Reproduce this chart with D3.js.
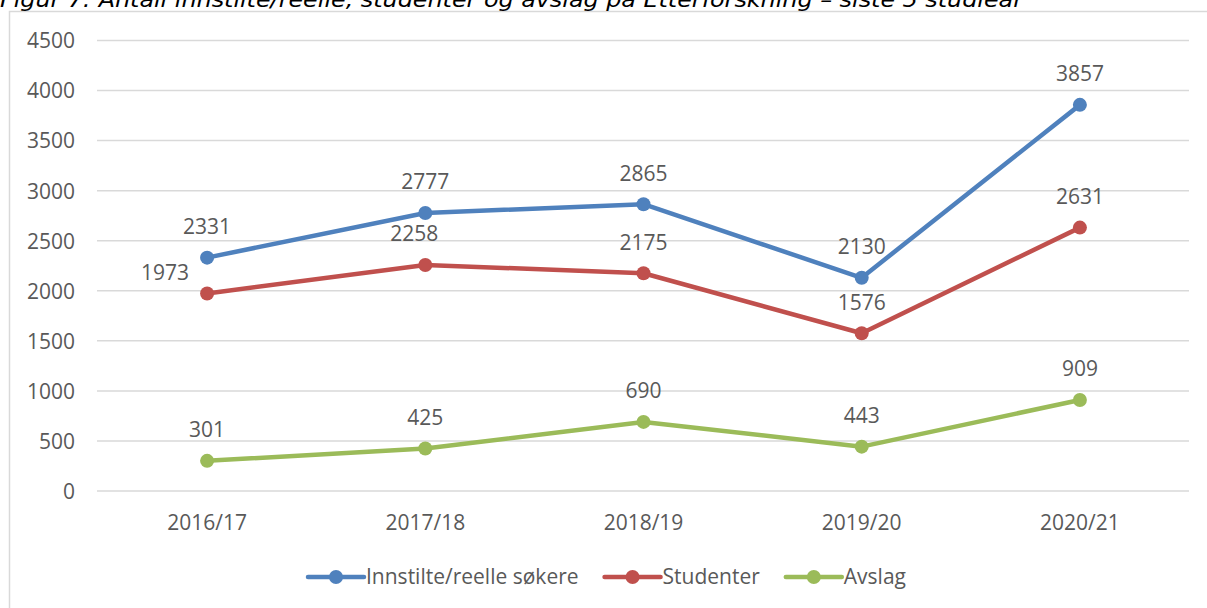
<!DOCTYPE html>
<html>
<head>
<meta charset="utf-8">
<script src="https://cdn.jsdelivr.net/npm/d3@7"></script>
<style>
  html, body { margin: 0; padding: 0; background: #fff; }
  svg { display: block; }
</style>
</head>
<body>
<svg id="chart" width="1207" height="608"></svg>
<script>
// ---- data ----
const categories = ["2016/17", "2017/18", "2018/19", "2019/20", "2020/21"];
const seriesNames = ["Innstilte/reelle søkere", "Studenter", "Avslag"];
const innstilte = [2331, 2777, 2865, 2130, 3857];
const studenter = [1973, 2258, 2175, 1576, 2631];
const avslag = [301, 425, 690, 443, 909];
const yTicks = [0, 500, 1000, 1500, 2000, 2500, 3000, 3500, 4000, 4500];
const titleText = "Figur 7: Antall innstilte/reelle, studenter og avslag på Etterforskning – siste 5 studieår";

// ---- style / layout ----
const colors = ["#4F81BD", "#C0504D", "#9BBB59"];
const textColor = "#595959";
const gridColor = "#D9D9D9";
const font = "'Open Sans', 'Noto Sans', sans-serif";
const fontSize = 21;
// label placement overrides: [seriesIndex, pointIndex, dx, dy]
const labelOverrides = [[1, 0, -42, 10], [1, 1, -11, 0]];

const series = [innstilte, studenter, avslag].map((v, i) => ({ name: seriesNames[i], values: v, color: colors[i] }));

const svg = d3.select("#chart");
const W = 1207, H = 608;

// outer frame
svg.append("rect").attr("x", 9.5).attr("y", 11.5).attr("width", W + 20).attr("height", H + 20)
  .attr("fill", "none").attr("stroke", gridColor).attr("stroke-width", 1.5);

// title (partly clipped at top, as in the reference)
svg.append("text").attr("x", 0).attr("y", 7)
  .attr("font-family", "'DejaVu Sans Condensed', 'DejaVu Sans', sans-serif")
  .attr("font-style", "italic").attr("font-size", 22).attr("fill", "#000")
  .attr("textLength", 1023).attr("lengthAdjust", "spacingAndGlyphs")
  .text(titleText);

const x = d3.scaleBand().domain(categories).range([98, 1189]).paddingInner(0).paddingOuter(0);
const y = d3.scaleLinear().domain([0, 4500]).range([491, 40.5]);
const cx = c => x(c) + x.bandwidth() / 2;

// gridlines
svg.append("g").selectAll("line").data(yTicks).join("line")
  .attr("x1", 97).attr("x2", 1189)
  .attr("y1", d => y(d)).attr("y2", d => y(d))
  .attr("stroke", gridColor).attr("stroke-width", 1.5);

// y axis
const yAxis = d3.axisLeft(y).tickValues(yTicks).tickSize(0).tickPadding(0).tickFormat(d3.format("d"));
const gy = svg.append("g").attr("transform", "translate(75,0)").call(yAxis);
gy.select(".domain").remove();
gy.selectAll("text").attr("font-family", font).attr("font-size", fontSize).attr("fill", textColor)
  .attr("dy", "0.35em");

// x axis
const xAxis = d3.axisBottom(x).tickSize(0).tickPadding(0);
const gx = svg.append("g").attr("transform", "translate(0,523)").call(xAxis);
gx.select(".domain").remove();
gx.selectAll("text").attr("font-family", font).attr("font-size", fontSize).attr("fill", textColor)
  .attr("dy", "0.35em");

// lines
const line = d3.line().x((d, i) => cx(categories[i])).y(d => y(d));
series.forEach((s, si) => {
  svg.append("path").datum(s.values).attr("d", line)
    .attr("fill", "none").attr("stroke", s.color).attr("stroke-width", 4.5)
    .attr("stroke-linejoin", "round").attr("stroke-linecap", "round");
  svg.append("g").selectAll("circle").data(s.values).join("circle")
    .attr("cx", (d, i) => cx(categories[i])).attr("cy", d => y(d)).attr("r", 7)
    .attr("fill", s.color);
});

// data labels
series.forEach((s, si) => {
  svg.append("g").selectAll("text").data(s.values).join("text")
    .attr("x", (d, i) => {
      const o = labelOverrides.find(o => o[0] === si && o[1] === i);
      return cx(categories[i]) + (o ? o[2] : 0);
    })
    .attr("y", (d, i) => {
      const o = labelOverrides.find(o => o[0] === si && o[1] === i);
      return y(d) - 31 + (o ? o[3] : 0);
    })
    .attr("dy", "0.35em").attr("text-anchor", "middle")
    .attr("font-family", font).attr("font-size", fontSize).attr("fill", textColor)
    .text(d => d);
});

// legend
const legend = svg.append("g");
const legendY = 577;
let lx = 308;
const segLen = 56, gapAfterSeg = 2, gapBetween = 26;
series.forEach((s, si) => {
  const g = legend.append("g");
  g.append("line").attr("x1", lx).attr("x2", lx + segLen).attr("y1", legendY).attr("y2", legendY)
    .attr("stroke", s.color).attr("stroke-width", 4.5).attr("stroke-linecap", "round");
  g.append("circle").attr("cx", lx + segLen / 2).attr("cy", legendY).attr("r", 7).attr("fill", s.color);
  const t = g.append("text").attr("x", lx + segLen + gapAfterSeg).attr("y", legendY).attr("dy", "0.35em")
    .attr("font-family", font).attr("font-size", fontSize).attr("fill", textColor).text(s.name);
  lx = lx + segLen + gapAfterSeg + t.node().getComputedTextLength() + gapBetween;
});
</script>
</body>
</html>
